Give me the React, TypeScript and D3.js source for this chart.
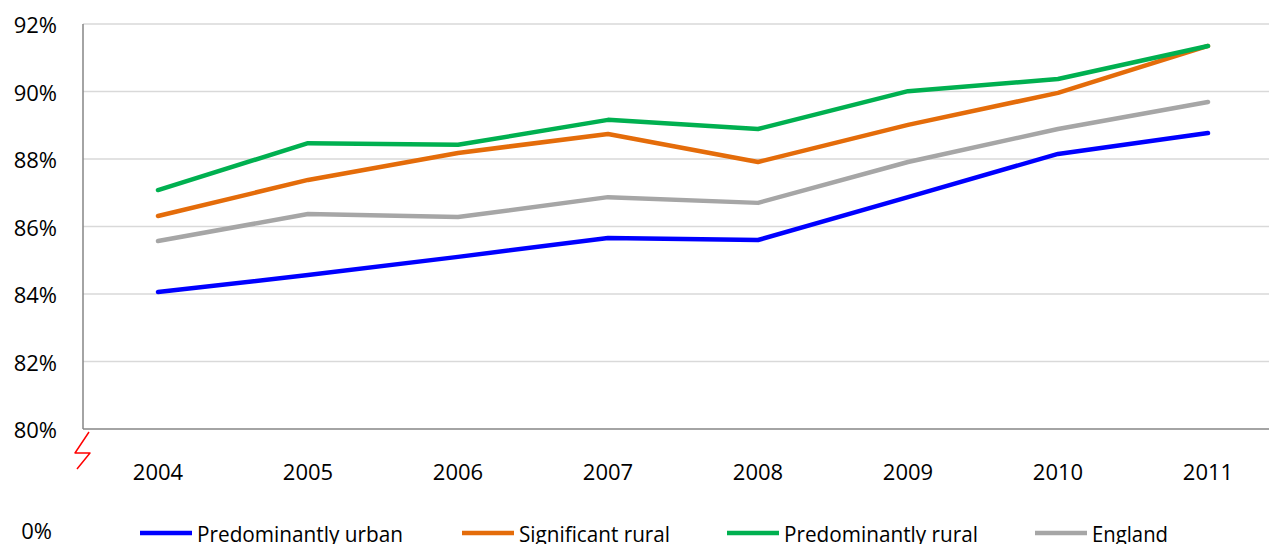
import React from "react";
import * as d3 from "d3";

const years = ["2004", "2005", "2006", "2007", "2008", "2009", "2010", "2011"];
const predominantlyUrban = [84.06, 84.56, 85.1, 85.66, 85.6, 86.87, 88.15, 88.77];
const significantRural = [86.31, 87.38, 88.18, 88.74, 87.91, 89.01, 89.96, 91.35];
const predominantlyRural = [87.08, 88.47, 88.42, 89.16, 88.89, 90.01, 90.37, 91.35];
const england = [85.57, 86.37, 86.28, 86.87, 86.7, 87.91, 88.89, 89.69];
const yTicks = [80, 82, 84, 86, 88, 90, 92];
const seriesNames = ["Predominantly urban", "Significant rural", "Predominantly rural", "England"];
const seriesColors = ["#0000FF", "#E46C0A", "#00B050", "#A6A6A6"];
const seriesData = [predominantlyUrban, significantRural, predominantlyRural, england];

const W = 1269;
const H = 544;
const FONT = "'Open Sans', sans-serif";

export default function App() {
  const x = d3.scalePoint<string>().domain(years).range([83, 1283]).padding(0.5);
  const y = d3.scaleLinear().domain([80, 92]).range([429, 24]);
  const line = d3
    .line<number>()
    .x((_, i) => x(years[i]) as number)
    .y((d) => y(d));

  const legendX = [140, 462, 727, 1035];
  const legendTextW = [206, 151, 194, 76];

  return (
    <svg width={W} height={H} style={{ position: "absolute", left: 0, top: 0, background: "#fff" }}>
      {yTicks.map((t) => (
        <g key={t}>
          {t !== 80 && (
            <line x1={83} x2={1283} y1={y(t)} y2={y(t)} stroke="#D9D9D9" strokeWidth={1.5} />
          )}
          <text x={57} y={y(t)} textAnchor="end" dominantBaseline="central" fontFamily={FONT} fontSize={22} fill="#000">
            {t}%
          </text>
        </g>
      ))}
      <line x1={83} x2={83} y1={y(92)} y2={y(80)} stroke="#868686" strokeWidth={1.5} />
      <line x1={83} x2={1283} y1={y(80)} y2={y(80)} stroke="#868686" strokeWidth={1.5} />
      {years.map((yr) => (
        <text key={yr} x={x(yr)} y={471} textAnchor="middle" dominantBaseline="central" fontFamily={FONT} fontSize={22} fill="#000">
          {yr}
        </text>
      ))}
      <text x={52} y={530} textAnchor="end" dominantBaseline="central" fontFamily={FONT} fontSize={22} fill="#000">
        0%
      </text>
      <path d="M89,432 L75,453 L90,453 L77,469" fill="none" stroke="#FF0000" strokeWidth={1.5} strokeLinejoin="round" />
      {seriesData.map((s, i) => (
        <path key={i} d={line(s) || ""} fill="none" stroke={seriesColors[i]} strokeWidth={4.5} strokeLinecap="round" strokeLinejoin="round" />
      ))}
      {seriesNames.map((n, i) => (
        <g key={n}>
          <line x1={legendX[i]} x2={legendX[i] + 52} y1={533} y2={533} stroke={seriesColors[i]} strokeWidth={4.5} />
          <text
            x={legendX[i] + 57}
            y={534}
            dominantBaseline="central"
            fontFamily={FONT}
            fontSize={21}
            fill="#000"
            textLength={legendTextW[i]}
            lengthAdjust="spacingAndGlyphs"
          >
            {n}
          </text>
        </g>
      ))}
    </svg>
  );
}
